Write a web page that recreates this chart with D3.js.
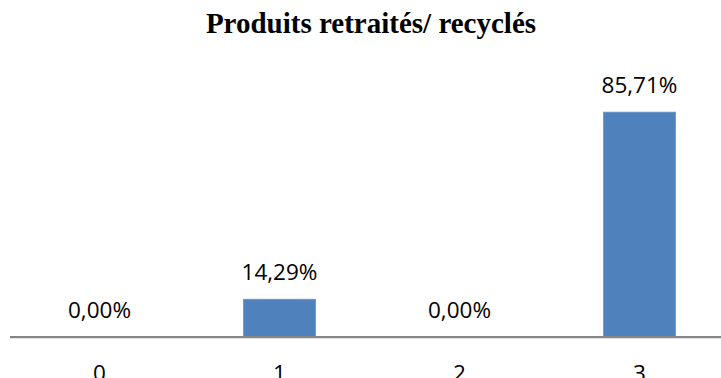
<!DOCTYPE html>
<html>
<head>
<meta charset="utf-8">
<script src="https://cdn.jsdelivr.net/npm/d3@7"></script>
<style>
  html, body { margin: 0; padding: 0; background: #fff; overflow: hidden; }
  svg { display: block; }
</style>
</head>
<body>
<svg id="chart" width="721" height="378"></svg>
<script>
// Share of products reprocessed / recycled, by score
const categories = ["0", "1", "2", "3"];
const values = [0, 14.29, 0, 85.71];
const valueLabels = ["0,00%", "14,29%", "0,00%", "85,71%"];
const title = "Produits retraités/ recyclés";

const svg = d3.select("#chart");

const plot = { left: 9.5, right: 729.5, top: 74.7, bottom: 336.7 };

const x = d3.scaleBand()
  .domain(categories)
  .range([plot.left, plot.right])
  .paddingInner(0.6)
  .paddingOuter(0.3);

const y = d3.scaleLinear()
  .domain([0, 100])
  .range([plot.bottom, plot.top]);

// Title
svg.append("text")
  .attr("x", 371)
  .attr("y", 33)
  .attr("text-anchor", "middle")
  .attr("font-family", "'Liberation Serif', 'Times New Roman', serif")
  .attr("font-weight", "bold")
  .attr("font-size", 29)
  .attr("fill", "#000")
  .text(title);

// Bars
svg.append("g")
  .selectAll("rect")
  .data(values)
  .join("rect")
  .attr("x", (d, i) => x(categories[i]))
  .attr("width", x.bandwidth())
  .attr("y", d => y(d))
  .attr("height", d => y(0) - y(d))
  .attr("fill", "#4F81BD")
  .attr("stroke", "#6B93C8")
  .attr("stroke-width", 0.8);

// Value labels
svg.append("g")
  .selectAll("text")
  .data(values)
  .join("text")
  .attr("x", (d, i) => x(categories[i]) + x.bandwidth() / 2)
  .attr("y", d => y(d) - 19)
  .attr("text-anchor", "middle")
  .attr("font-family", "'Open Sans', sans-serif")
  .attr("font-size", 22.5)
  .attr("fill", "#000")
  .text((d, i) => valueLabels[i]);

// Category axis
const axis = svg.append("g")
  .attr("transform", `translate(0,${plot.bottom})`)
  .call(d3.axisBottom(x).tickSize(0).tickPadding(0));

axis.select(".domain")
  .attr("stroke", "#868686")
  .attr("stroke-width", 2.2);

axis.selectAll(".tick text")
  .attr("font-family", "'Open Sans', sans-serif")
  .attr("font-size", 22.5)
  .attr("fill", "#000")
  .attr("dy", null)
  .attr("y", 44);
</script>
</body>
</html>
